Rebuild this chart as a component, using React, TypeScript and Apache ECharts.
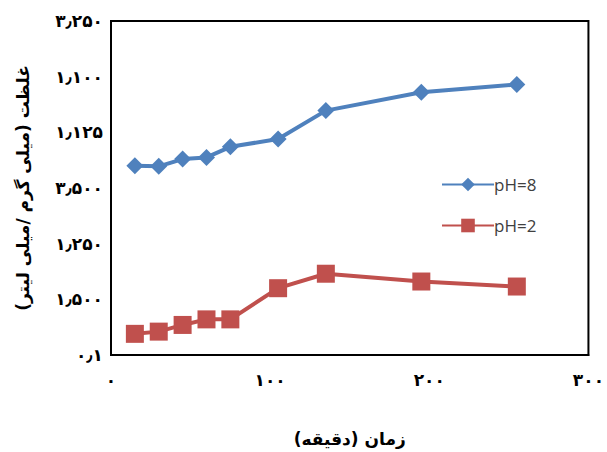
import React, { useEffect, useRef } from "react";
import * as echarts from "echarts";

const xTickLabels = ["۰", "۱۰۰", "۲۰۰", "۳۰۰"];
const yTickLabels = ["۰٫۱", "۱٫۵۰۰", "۱٫۲۵۰", "۳٫۵۰۰", "۱٫۱۲۵", "۱٫۱۰۰", "۳٫۲۵۰"];
const times = [15, 30, 45, 60, 75, 105, 135, 195, 255];
const ph8 = [3.4, 3.39, 3.52, 3.55, 3.74, 3.88, 4.39, 4.72, 4.86];
const ph2 = [0.38, 0.42, 0.54, 0.64, 0.64, 1.2, 1.46, 1.32, 1.23];
const xTitle = "زمان (دقیقه)";
const yTitle = "غلظت (میلی گرم /میلی لیتر)";

export default function App() {
  const ref = useRef<HTMLDivElement>(null);
  useEffect(() => {
    const chart = echarts.init(ref.current!, null, { renderer: "svg" });
    const arabicFont = "DejaVu Sans";
    chart.setOption({
      animation: false,
      backgroundColor: "#fff",
      grid: {
        left: 111,
        top: 21,
        width: 481,
        height: 336,
        show: true,
        borderColor: "#000",
        borderWidth: 2,
      },
      xAxis: {
        type: "value",
        min: 0,
        max: 300,
        interval: 100,
        splitLine: { show: false },
        axisTick: { show: false },
        axisLine: { show: true, lineStyle: { color: "#000", width: 2 } },
        axisLabel: {
          margin: 16,
          fontFamily: arabicFont,
          fontWeight: "bold",
          fontSize: 17,
          color: "#000",
          formatter: (v: number) => xTickLabels[Math.round(v / 100)] ?? "",
        },
        name: xTitle,
        nameLocation: "middle",
        nameGap: 75,
        nameTextStyle: { fontFamily: arabicFont, fontWeight: "bold", fontSize: 17, color: "#000" },
      },
      yAxis: {
        type: "value",
        min: 0,
        max: 6,
        interval: 1,
        splitLine: { show: false },
        axisTick: { show: false },
        axisLine: { show: true, lineStyle: { color: "#000", width: 2 } },
        axisLabel: {
          margin: 8,
          fontFamily: arabicFont,
          fontWeight: "bold",
          fontSize: 17,
          color: "#000",
          formatter: (v: number) => yTickLabels[Math.round(v)] ?? "",
        },
        name: yTitle,
        nameLocation: "middle",
        nameRotate: 90,
        nameGap: 80,
        nameTextStyle: { fontFamily: arabicFont, fontWeight: "bold", fontSize: 17, color: "#000" },
      },
      legend: {
        orient: "vertical",
        left: 436,
        top: 171,
        itemWidth: 52,
        itemHeight: 17,
        itemGap: 24,
        textStyle: { fontFamily: "Open Sans", fontSize: 17, color: "#404040", padding: [0, 0, 0, -5] },
        data: ["pH=8", "pH=2"],
      },
      series: [
        {
          name: "pH=8",
          type: "line",
          data: times.map((t, i) => [t, ph8[i]]),
          symbol: "diamond",
          symbolSize: 17,
          color: "#4F81BD",
          lineStyle: { width: 4, color: "#4F81BD" },
          itemStyle: { color: "#4F81BD" },
        },
        {
          name: "pH=2",
          type: "line",
          data: times.map((t, i) => [t, ph2[i]]),
          symbol: "rect",
          symbolSize: 18,
          color: "#C0504D",
          lineStyle: { width: 4, color: "#C0504D" },
          itemStyle: { color: "#C0504D" },
        },
      ],
    });
    return () => chart.dispose();
  }, []);
  return <div ref={ref} style={{ width: 607, height: 452, position: "absolute", left: 0, top: 0 }} />;
}
